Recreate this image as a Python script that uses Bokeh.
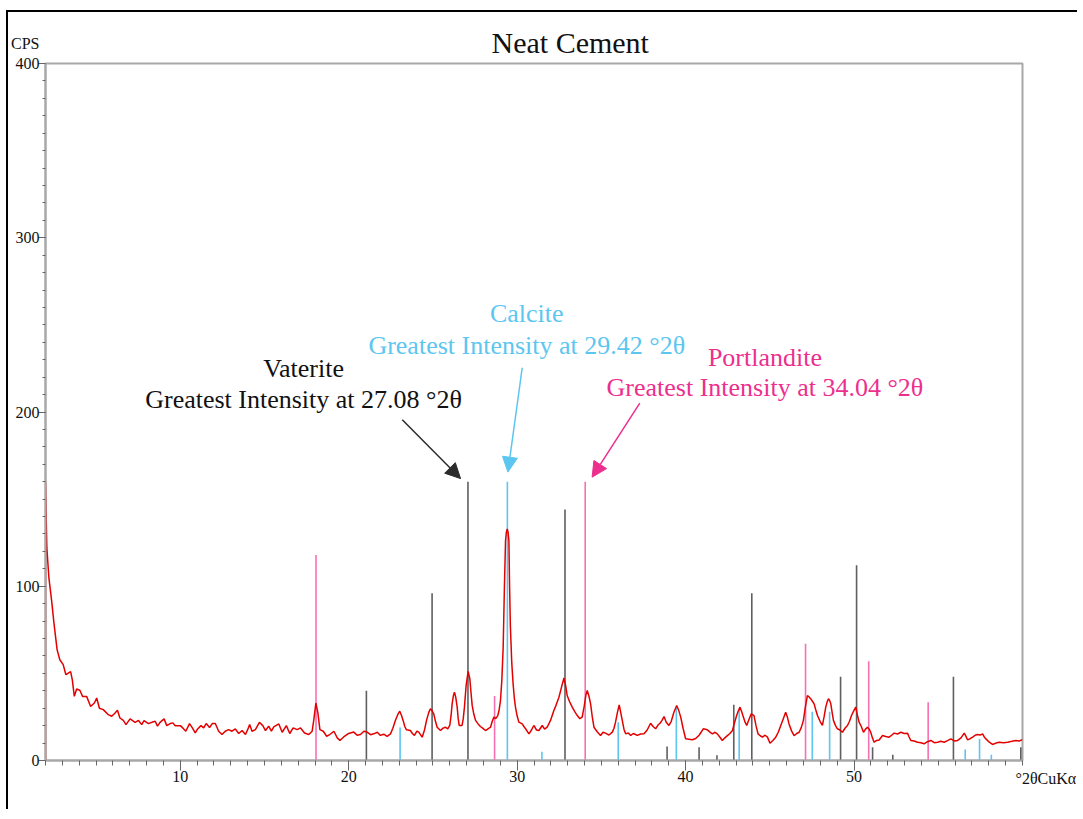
from bokeh.plotting import figure
from bokeh.models import Range1d, FixedTicker, Label, Arrow, NormalHead, LinearAxis
from bokeh.embed import file_html
from bokeh.resources import INLINE

# ---------------- data ----------------
two_theta = [
    2.0, 2.0, 2.04, 2.08, 2.2, 2.36, 2.5, 2.69, 2.85, 3.05, 3.21, 3.35, 3.49, 3.59, 3.71, 3.85,
    4.04, 4.2, 4.44, 4.68, 4.9, 5.04, 5.2, 5.43, 5.73, 5.93, 6.13, 6.27, 6.42, 6.62, 6.78, 7.02,
    7.32, 7.52, 7.71, 7.85, 8.11, 8.31, 8.51, 8.65, 8.8, 9.04, 9.2, 9.4, 9.56, 9.7, 10.0, 10.15,
    10.33, 10.55, 10.71, 10.89, 11.03, 11.23, 11.39, 11.54, 11.74, 11.9, 12.08, 12.28, 12.48,
    12.67, 12.87, 13.07, 13.27, 13.47, 13.67, 13.87, 14.0, 14.12, 14.26, 14.46, 14.7, 14.9,
    15.06, 15.25, 15.41, 15.55, 15.85, 16.05, 16.3, 16.5, 16.7, 16.94, 17.14, 17.38, 17.63,
    17.83, 17.93, 18.05, 18.17, 18.29, 18.49, 18.69, 18.88, 19.12, 19.32, 19.48,
    19.7, 20.0, 20.3, 20.5, 20.7, 20.9, 21.09, 21.3, 21.49, 21.7, 21.88, 22.08, 22.28, 22.48,
    22.62, 22.77, 22.92, 23.03, 23.13, 23.23, 23.33, 23.43, 23.66, 23.78, 23.9, 24.05, 24.16,
    24.36, 24.5, 24.62, 24.75, 24.85, 24.95, 25.05, 25.15, 25.25, 25.45, 25.6, 25.74, 25.88,
    26.0, 26.08, 26.14, 26.22, 26.28, 26.36, 26.44, 26.5, 26.56, 26.73, 26.8, 26.87, 26.97,
    27.09, 27.19, 27.26, 27.33, 27.43, 27.53, 27.68, 27.82, 27.97, 28.12, 28.27, 28.42, 28.52,
    28.62, 28.73, 28.85, 28.93, 29.01, 29.09, 29.17, 29.24, 29.31, 29.36, 29.41, 29.46, 29.51,
    29.55, 29.6, 29.68, 29.76, 29.83, 29.9, 30.0, 30.1, 30.3, 30.4, 30.5, 30.7, 30.85, 30.99,
    31.15, 31.29, 31.49, 31.63, 31.78, 31.98, 32.18, 32.3, 32.48, 32.63, 32.78, 32.88, 32.97,
    33.1, 33.27, 33.42, 33.57, 33.72, 33.86, 33.98, 34.08, 34.16, 34.26, 34.36, 34.46, 34.56,
    34.75, 34.95, 35.1, 35.25, 35.45, 35.65, 35.75, 35.84, 35.95, 36.06, 36.15, 36.24, 36.34,
    36.44, 36.6, 36.74, 36.9, 37.13, 37.33, 37.53, 37.72, 37.92, 38.07, 38.22, 38.35, 38.48,
    38.6, 38.72, 38.85, 39.01, 39.15, 39.3, 39.47, 39.6, 39.71, 39.85, 40.0, 40.2, 40.4, 40.6,
    40.8, 41.05, 41.29, 41.45, 41.59, 41.75, 41.88, 42.05, 42.18, 42.33, 42.48, 42.63, 42.78,
    42.9, 43.03, 43.13, 43.23, 43.33, 43.43, 43.53, 43.63, 43.76, 43.9, 44.06, 44.18, 44.3,
    44.43, 44.56, 44.72, 44.86, 45.01, 45.18, 45.35, 45.5, 45.65, 45.8, 45.94, 46.04, 46.14,
    46.29, 46.44, 46.6, 46.74, 46.87, 46.99, 47.1, 47.23, 47.33, 47.43, 47.53, 47.63, 47.73,
    47.83, 47.98, 48.12, 48.22, 48.32, 48.4, 48.48, 48.55, 48.62, 48.7, 48.78, 48.9, 49.01,
    49.16, 49.31, 49.46, 49.61, 49.73, 49.85, 49.98, 50.1, 50.2, 50.3, 50.43, 50.56, 50.68,
    50.8, 50.9, 50.99, 51.09, 51.19, 51.34, 51.49, 51.69, 51.88, 52.08, 52.23, 52.38, 52.58,
    52.78, 52.98, 53.17, 53.27, 53.37, 53.57, 53.77, 53.97, 54.16, 54.36, 54.56, 54.76, 54.96,
    55.15, 55.35, 55.55, 55.75, 55.95, 56.15, 56.35, 56.54, 56.64, 56.74, 56.89, 57.04, 57.19,
    57.33, 57.48, 57.63, 57.73, 57.83, 58.03, 58.22, 58.42, 58.62, 58.87, 59.12, 59.37, 59.61,
    59.8, 60.0,
]
cps = [
    0, 160, 140, 122, 105, 92, 79, 63.5, 57.8, 55, 49.2, 50.2, 51, 46.4, 36.8, 41,
    40.3, 36.8, 36.8, 31, 33, 35.9, 30, 29.2, 26.3, 25.4, 27.3, 28.8, 24.4, 23, 20.6, 23.9,
    21.9, 23, 20.6, 22.9, 21.2, 21.9, 22.5, 19.7, 21.9, 23.9, 20, 21.2, 21.6, 20, 20, 18.7,
    16.8, 21.2, 18.9, 15.8, 18.1, 20, 18.7, 21.2, 18.9, 21.2, 21.2, 16.8, 14.9,
    16.8, 17.7, 16.8, 18.1, 15.5, 17.2, 14.9, 17.7, 20.6, 16.8, 17.7, 21.9, 20,
    17.2, 19.7, 16.8, 19.3, 21, 16.2, 20, 15.5, 18.7, 17.7, 18.7, 15.8, 14.9,
    16.8, 23.5, 33, 27.3, 17.7, 16.8, 13.9, 14.9, 16.8, 13, 11.5,
    13.5, 15.5, 16.3, 14.5, 14.9, 16.8, 16.3, 14.8, 15.3, 16.2, 14.4, 15.1, 13.8, 15.3,
    18.5, 23, 26.5, 28.3, 26, 23, 19.5, 17.6, 17.2, 15.5, 14.4, 16.8, 16.3,
    13.4, 17.5, 23, 27.5, 29.7, 28.5, 26.8, 22.5, 19.1, 17.2, 18.6, 19.1, 18.2,
    20.1, 26, 32.5, 37.5, 39.2, 36, 30.6, 24, 20.1, 20.1, 24, 30.6, 43,
    51.1, 46.9, 39, 31.6, 26.5, 23, 21, 19.5, 18.4, 17.2, 18.2, 19.1, 22.5,
    24.9, 24, 25.8, 29, 34.4, 46, 65, 98, 126.2, 131, 132.9, 131, 126.2,
    100, 76.5, 56, 44, 36, 30.6, 25.5, 22, 21, 19.5, 18.2, 15.3, 17.5, 20.1,
    17.5, 17.2, 20.1, 18, 19.1, 23, 28.7, 31.5, 36.3, 42, 47.4, 43, 37.3,
    34, 30.6, 28, 25.8, 24, 24.9, 31, 37.5, 40.2, 37, 32.5, 25, 19.1,
    16.5, 14.4, 16.2, 15.7, 14.6, 16.3, 18.5, 22, 27.5, 31.9, 27.5, 23, 18,
    15.3, 15.8, 14.4, 15.5, 14.4, 15.2, 15.3, 17.5, 21.4, 19.5, 18.2, 20.2, 21.4,
    23, 25.2, 22, 20.1, 22.5, 27.5, 31.6, 28.5, 24.9, 18.5, 12.5, 12.2, 11.9, 12.6,
    14.5, 18.2, 17.6, 16.3, 15.3, 16.2, 15.3, 13.2, 11.5, 13, 14.3, 15.5, 17.2,
    21.5, 25.8, 28.5, 30.6, 28, 24.9, 22, 20.1, 23.5, 26.8, 25.8, 20, 15.3,
    14.2, 13.4, 14.5, 13.4, 9.9, 11.5, 13.4, 16.2, 20.1, 24, 27.7, 25, 21,
    17, 14.3, 15.5, 16.2, 19, 22.9, 30, 37.3, 36.5, 35.4, 34, 32.5, 29,
    25.8, 22.5, 20.1, 25, 30.6, 33.5, 35.4, 34.5, 32.5, 27.5, 22.9, 20, 18.2,
    17.5, 16.2, 18.5, 20.1, 22.5, 25.8, 28.5, 30.6, 26, 22, 19.5, 16.2, 18,
    19.1, 18, 16.2, 13, 10.5, 11.5, 11.8, 14.3, 13.8, 13.4, 14.5, 15.7, 15.2,
    16.2, 15.5, 15.7, 13.5, 11.5, 11.2, 10.5, 10.2, 9.6, 10.8, 11.5, 10.2, 10.5,
    11, 10.5, 11.4, 12.4, 11.2, 11.5, 13, 15.7, 14, 11.8, 12.5, 13.4, 14.5,
    14.9, 14.6, 15.3, 13.5, 12.4, 10.5, 9.2, 10, 10.5, 10.2, 10.5, 11, 11.5,
    11.2, 12,
]

vaterite_pos = [21.05, 24.95, 27.08, 32.84, 38.9, 40.8, 41.86, 42.86, 43.93, 49.2, 50.15, 51.1, 52.3, 55.9, 59.9]
vaterite_int = [40, 96, 160, 144, 8, 7.6, 3, 32, 96, 48, 112, 7.6, 3.3, 48, 7.6]

calcite_pos = [23.05, 29.42, 31.47, 36.0, 39.45, 43.18, 47.52, 48.55, 56.6, 57.45, 58.15]
calcite_int = [19, 160, 5, 22, 30, 29, 28, 28, 6.3, 12.4, 3.3]

portlandite_pos = [18.06, 28.66, 34.04, 47.12, 50.87, 54.4]
portlandite_int = [118, 37, 160, 67, 57, 33.5]

x_ticks = [10, 20, 30, 40, 50]
y_ticks = [0, 100, 200, 300, 400]
x_minor = list(range(2, 61))
y_minor = list(range(0, 401, 10))

title_text = "Neat Cement"
y_unit = "CPS"
x_unit = "°2θCuKα"
x_unit_anchor = 1.4   # right-axis tick whose (third-line) label sits level with the x tick labels

# ---------------- figure ----------------
FONT = "Liberation Serif"
GREY = "#a8a8a8"
TICK = "#666666"
STICK_GREY = "#5f5f5f"
CYAN = "#5cc6f0"
PINK = "#f870b4"
PINK_TXT = "#ec2f8e"

p = figure(width=1071, height=799, x_range=Range1d(2, 60), y_range=Range1d(0, 400),
           output_backend="svg", toolbar_location=None,
           min_border_left=34, min_border_right=55, min_border_top=51, min_border_bottom=51)
p.styles = {"border-left": "2px solid black", "border-top": "2px solid black",
            "margin-left": "6px", "margin-top": "10px"}
p.title.text = title_text
p.title.align = "left"
p.title.offset = 446
p.title.standoff = 10
p.title.text_font = FONT
p.title.text_font_size = "30px"
p.title.text_font_style = "normal"
p.title.text_color = "#111111"
p.xgrid.visible = False
p.ygrid.visible = False
p.outline_line_color = GREY
p.outline_line_width = 2
p.background_fill_color = "white"
p.border_fill_color = "white"

# x axis
xa = p.xaxis[0]
xa.ticker = FixedTicker(ticks=x_ticks, minor_ticks=x_minor)
xa.axis_line_color = GREY
xa.axis_line_width = 2
xa.major_tick_line_color = TICK
xa.minor_tick_line_color = TICK
xa.major_tick_in = 0
xa.minor_tick_in = 0
xa.major_tick_out = 10
xa.minor_tick_out = 5
xa.major_label_text_font = FONT
xa.major_label_text_font_size = "16px"
xa.major_label_text_color = "#111111"
xa.major_label_standoff = 0

# y axis: inner axis carries the tick marks only
ya = p.yaxis[0]
ya.ticker = FixedTicker(ticks=y_ticks, minor_ticks=y_minor)
ya.axis_line_color = GREY
ya.axis_line_width = 2
ya.major_tick_line_color = TICK
ya.minor_tick_line_color = TICK
ya.major_tick_in = 0
ya.minor_tick_in = 0
ya.major_tick_out = 7
ya.minor_tick_out = 3
ya.major_label_overrides = {t: "" for t in y_ticks}
ya.major_label_standoff = 0

# outer y axis carries the numbers; the top one also carries the CPS unit above it
ylab = LinearAxis(ticker=FixedTicker(ticks=y_ticks, minor_ticks=[]),
                  axis_line_color=None,
                  major_tick_out=0, major_tick_in=0, minor_tick_out=0, minor_tick_in=0,
                  major_label_standoff=-1,
                  major_label_overrides={400: y_unit + "\n400\n"},
                  major_label_text_font=FONT, major_label_text_font_size="16px",
                  major_label_text_color="#111111")
p.add_layout(ylab, "left")

# right axis carries only the x unit label, level with the x tick labels
xunit = LinearAxis(ticker=FixedTicker(ticks=[x_unit_anchor], minor_ticks=[]),
                   axis_line_color=None,
                   major_tick_out=0, major_tick_in=0, minor_tick_out=0, minor_tick_in=0,
                   major_label_standoff=-7,
                   major_label_overrides={x_unit_anchor: "\n\n" + x_unit},
                   major_label_text_font=FONT, major_label_text_font_size="16px",
                   major_label_text_color="#111111")
p.add_layout(xunit, "right")

# reference sticks
p.segment(x0=vaterite_pos, y0=[0] * len(vaterite_pos), x1=vaterite_pos, y1=vaterite_int,
          line_color=STICK_GREY, line_width=1.6)
p.segment(x0=calcite_pos, y0=[0] * len(calcite_pos), x1=calcite_pos, y1=calcite_int,
          line_color=CYAN, line_width=1.6)
p.segment(x0=portlandite_pos, y0=[0] * len(portlandite_pos), x1=portlandite_pos, y1=portlandite_int,
          line_color=PINK, line_width=1.6)

# measured pattern
p.line(two_theta, cps, line_color="#e30000", line_width=1.5)

# annotation texts
def lab(x, y, text, color="#111111", size="26px"):
    p.add_layout(Label(x=x, y=y, text=text, text_font=FONT, text_font_size=size,
                       text_color=color, text_align="center", text_baseline="alphabetic"))

lab(17.32, 224.8, "Vaterite")
lab(17.32, 207.0, "Greatest Intensity at 27.08 °2θ")
lab(30.57, 256.4, "Calcite", color=CYAN)
lab(30.57, 238.2, "Greatest Intensity at 29.42 °2θ", color=CYAN)
lab(44.71, 231.4, "Portlandite", color=PINK_TXT)
lab(44.71, 213.9, "Greatest Intensity at 34.04 °2θ", color=PINK_TXT)

# arrows
def arr(x0, y0, x1, y1, color):
    p.add_layout(Arrow(end=NormalHead(size=15, fill_color=color, line_color=color),
                       x_start=x0, y_start=y0, x_end=x1, y_end=y1,
                       line_color=color, line_width=1.5))

arr(23.18, 195.5, 26.64, 161.8, "#2b2b2b")
arr(30.30, 225.4, 29.45, 165.5, CYAN)
arr(37.28, 205.1, 34.45, 162.6, PINK_TXT)

open("out.html", "w").write(file_html(p, INLINE))
